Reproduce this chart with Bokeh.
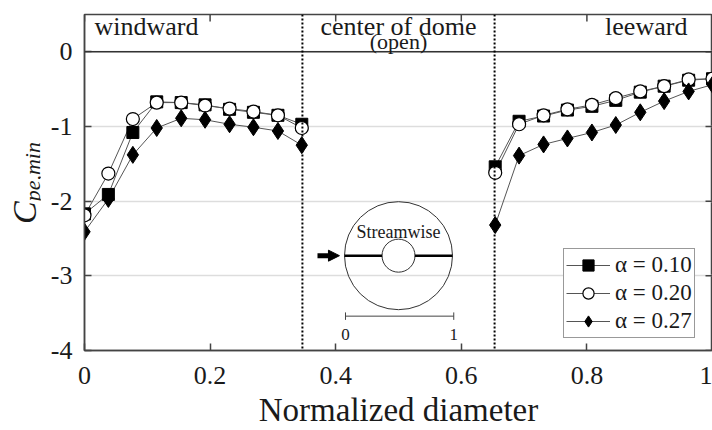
import numpy as np
from bokeh.plotting import figure
from bokeh.layouts import row
from bokeh.models import Span, Label, Legend, LegendItem, Arrow, NormalHead, FixedTicker, Div
from bokeh.embed import file_html
from bokeh.resources import INLINE

# ---------------- data ----------------
x_windward = [0.000, 0.038, 0.077, 0.115, 0.154, 0.192, 0.231, 0.269, 0.308, 0.346]
x_leeward = [0.654, 0.692, 0.731, 0.769, 0.808, 0.846, 0.885, 0.923, 0.962, 1.000]

cp_a010_windward = [-2.17, -1.91, -1.08, -0.67, -0.68, -0.71, -0.77, -0.81, -0.85, -0.97]
cp_a010_leeward = [-1.54, -0.93, -0.86, -0.78, -0.73, -0.65, -0.54, -0.46, -0.38, -0.36]
cp_a020_windward = [-2.19, -1.63, -0.90, -0.68, -0.68, -0.72, -0.76, -0.80, -0.85, -1.02]
cp_a020_leeward = [-1.62, -0.97, -0.85, -0.77, -0.71, -0.62, -0.53, -0.46, -0.37, -0.36]
cp_a027_windward = [-2.41, -1.97, -1.38, -1.02, -0.89, -0.91, -0.97, -1.01, -1.06, -1.25]
cp_a027_leeward = [-2.32, -1.39, -1.24, -1.16, -1.08, -0.98, -0.81, -0.66, -0.53, -0.44]

series_labels = ["\u03b1 = 0.10", "\u03b1 = 0.20", "\u03b1 = 0.27"]
x_ticks = [0, 0.2, 0.4, 0.6, 0.8, 1]
x_tick_labels = ["0", "0.2", "0.4", "0.6", "0.8", "1"]
y_ticks = [0, -1, -2, -3, -4]
y_tick_labels = ["0", "-1", "-2", "-3", "-4"]
region_labels = ["windward", "center of dome", "leeward"]
region_bounds = [0.347, 0.653]

FONT = "Liberation Serif"
TXT = "#1a1a1a"

p = figure(width=672, height=430, x_range=(0, 1), y_range=(-4, 0.5),
           output_backend="svg", toolbar_location=None,
           min_border_left=44, min_border_right=0, min_border_top=14, min_border_bottom=80)
p.background_fill_color = "white"
p.border_fill_color = "white"
p.outline_line_color = "#444444"
p.outline_line_width = 1.5

# axes
p.xaxis.ticker = FixedTicker(ticks=x_ticks)
p.xaxis.major_label_overrides = {t: l for t, l in zip(x_ticks, x_tick_labels)}
p.yaxis.ticker = FixedTicker(ticks=y_ticks)
p.yaxis.major_label_overrides = {t: l for t, l in zip(y_ticks, y_tick_labels)}
for ax in (p.xaxis[0], p.yaxis[0]):
    ax.major_tick_in = 7
    ax.major_tick_out = 0
    ax.minor_tick_line_color = None
    ax.axis_line_color = "#444444"
    ax.axis_line_width = 1.5
    ax.major_tick_line_color = "#444444"
    ax.major_tick_line_width = 1.5
    ax.major_label_text_font = FONT
    ax.major_label_text_font_size = "26px"
    ax.major_label_text_color = TXT
p.yaxis.major_label_standoff = 12
p.xaxis.major_label_standoff = 16
p.xaxis.axis_label = "Normalized diameter"
p.xaxis.axis_label_text_font = FONT
p.xaxis.axis_label_text_font_size = "33px"
p.xaxis.axis_label_text_font_style = "normal"
p.xaxis.axis_label_text_color = TXT
p.xaxis.axis_label_standoff = 5

p.xgrid.visible = False
p.ygrid.ticker = FixedTicker(ticks=y_ticks)
p.ygrid.grid_line_color = "#dddddd"
p.ygrid.grid_line_width = 1.5

# inward ticks on top and right edges
p.scatter(x_ticks, [0.5] * len(x_ticks), marker="dash", angle=np.pi / 2, size=14,
          line_color="#444444", line_width=1.5)
p.scatter([1] * len(y_ticks), y_ticks, marker="dash", size=14,
          line_color="#444444", line_width=1.5)

# region separators
p.add_layout(Span(location=0, dimension="width", line_color="#333333", line_width=1.5))
for b in region_bounds:
    p.add_layout(Span(location=b, dimension="height", line_color="black",
                      line_width=2, line_dash="2 2"))

# series
nan = [np.nan]
xs = x_windward + nan + x_leeward
y010 = cp_a010_windward + nan + cp_a010_leeward
y020 = cp_a020_windward + nan + cp_a020_leeward
y027 = cp_a027_windward + nan + cp_a027_leeward

LC = "#555555"
l1 = p.line(xs, y010, line_color=LC, line_width=1)
l2 = p.line(xs, y020, line_color=LC, line_width=1)
l3 = p.line(xs, y027, line_color=LC, line_width=1)
m1 = p.scatter(xs, y010, marker="square", size=12, fill_color="black", line_color="black")
m2 = p.scatter(xs, y020, marker="circle", size=13, fill_color="white", line_color="black", line_width=1.2)
m3 = p.scatter(xs, y027, marker="diamond", size=17, fill_color="black", line_color="black")

legend = Legend(items=[LegendItem(label=series_labels[0], renderers=[l1, m1]),
                       LegendItem(label=series_labels[1], renderers=[l2, m2]),
                       LegendItem(label=series_labels[2], renderers=[l3, m3])],
                location=(479, 12))
legend.glyph_width = 44
legend.glyph_height = 28
legend.label_height = 28
legend.spacing = 0
legend.padding = 2
legend.margin = 0
legend.label_standoff = 5
legend.label_text_font = FONT
legend.label_text_font_size = "23px"
legend.label_text_color = TXT
legend.border_line_color = "#333333"
legend.border_line_width = 1.5
legend.background_fill_color = "white"
legend.background_fill_alpha = 1
p.add_layout(legend)

# region labels in the top band
p.add_layout(Label(x=0.016, y=0.333, text=region_labels[0], text_font=FONT, text_font_size="26px",
                   text_color=TXT, text_align="left", text_baseline="middle"))
p.add_layout(Label(x=0.5, y=0.333, text=region_labels[1], text_font=FONT, text_font_size="26px",
                   text_color=TXT, text_align="center", text_baseline="middle"))
p.add_layout(Label(x=0.5, y=0.138, text="(open)", text_font=FONT, text_font_size="22px",
                   text_color=TXT, text_align="center", text_baseline="middle"))
p.add_layout(Label(x=0.96, y=0.333, text=region_labels[2], text_font=FONT, text_font_size="26px",
                   text_color=TXT, text_align="right", text_baseline="middle"))

# inset dome sketch
cx, cy = 0.5, -2.73
p.scatter([cx], [cy], marker="circle", size=108, fill_color=None, line_color="#333333", line_width=1)
p.scatter([cx], [cy], marker="circle", size=33, fill_color=None, line_color="#333333", line_width=1)
p.segment(x0=[0.414, 0.526], y0=[cy, cy], x1=[0.474, 0.586], y1=[cy, cy],
          line_color="black", line_width=2.5)
p.add_layout(Label(x=cx, y=-2.409, text="Streamwise", text_font=FONT, text_font_size="18px",
                   text_color=TXT, text_align="center", text_baseline="middle"))
p.add_layout(Arrow(x_start=0.371, y_start=cy, x_end=0.406, y_end=cy, line_width=5, line_color="black",
                   end=NormalHead(size=11, fill_color="black", line_color="black")))
sb_y = -3.54
p.segment(x0=[0.4156], y0=[sb_y], x1=[0.588], y1=[sb_y], line_color="#444444", line_width=1)
p.segment(x0=[0.4156, 0.588], y0=[sb_y - 0.05, sb_y - 0.05], x1=[0.4156, 0.588], y1=[sb_y + 0.05, sb_y + 0.05],
          line_color="#444444", line_width=1)
p.add_layout(Label(x=0.4156, y=-3.786, text="0", text_font=FONT, text_font_size="17px",
                   text_color=TXT, text_align="center", text_baseline="middle"))
p.add_layout(Label(x=0.588, y=-3.786, text="1", text_font=FONT, text_font_size="17px",
                   text_color=TXT, text_align="center", text_baseline="middle"))

# y-axis label C_pe,min (rotated HTML text beside the plot)
ylabel_html = (
    '<div style="position:absolute; left:8px; top:224px; transform:rotate(-90deg); '
    'transform-origin:0 0; white-space:nowrap; font-family:\'Liberation Serif\'; '
    'font-style:italic; font-size:34px; line-height:34px; color:#1a1a1a;">'
    'C<span style="font-size:22px; position:relative; top:4px;">pe,min</span></div>'
)
ylabel = Div(text=ylabel_html, width=40, height=430, margin=0)

layout = row(ylabel, p, spacing=0)
open("out.html", "w").write(file_html(layout, INLINE))
